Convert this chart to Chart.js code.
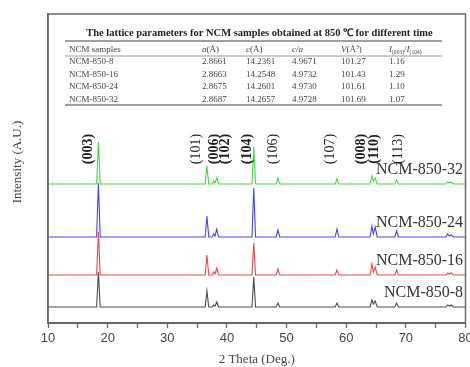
<!DOCTYPE html>
<html><head><meta charset="utf-8">
<script src="https://cdn.jsdelivr.net/npm/chart.js@4"></script>
<style>html,body{margin:0;padding:0;background:#fff}#wrap{width:470px;height:367px}</style>
</head><body><div id="wrap"><canvas id="c" width="470" height="367"></canvas></div>
<script>
// ---- data (2θ in degrees, intensities in arbitrary units above each pattern's baseline)
const TWO_THETA = [10,
  18.15, 18.45, 18.75,
  36.35, 36.65, 36.95,
  37.55, 37.8, 38.0, 38.3, 38.6,
  44.2, 44.5, 44.8,
  48.25, 48.55, 48.85,
  58.15, 58.45, 58.75,
  64.0, 64.3, 64.55, 64.85, 65.2,
  68.15, 68.45, 68.75,
  76.7, 77.0, 77.3, 77.6, 78.0,
  80];
const NCM_850_8  = [0, 0,35,0, 0,16,0, 0,2,1,5,0, 0,30,0, 0,4,0, 0,4,0, 0,7,3,6,0, 0,4,0, 0,2,1,2,0, 0];
const NCM_850_16 = [0, 0,43,0, 0,20,0, 0,3,1,7,0, 0,32,0, 0,6,0, 0,5,0, 0,11,3,8,0, 0,5,0, 0,2,1,2,0, 0];
const NCM_850_24 = [0, 0,54,0, 0,21,0, 0,3,1,8,0, 0,49,0, 0,7,0, 0,8,0, 0,11,3,10,0, 0,6,0, 0,3,1,2,0, 0];
const NCM_850_32 = [0, 0,42,0, 0,18,0, 0,3,1,6,0, 0,37,0, 0,6,0, 0,5,0, 0,8,3,6,0, 0,4,0, 0,2,1,2,0, 0];
const SERIES_NAMES = ['NCM-850-8', 'NCM-850-16', 'NCM-850-24', 'NCM-850-32'];
const STACK_SHIFT = [16, 48, 86, 139];   // vertical offset of each stacked pattern
const X_TICKS = [10, 20, 30, 40, 50, 60, 70, 80];

const HKL_LABELS = ['(003)', '(101)', '(006)', '(102)', '(104)', '(106)', '(107)', '(008)', '(110)', '(113)'];
const HKL_AT     = [16.7, 34.8, 37.85, 39.7, 43.4, 47.75, 57.3, 62.6, 64.75, 68.8];
const HKL_BOLD   = [true, false, true, true, true, false, false, true, true, false];

const TABLE_TITLE = 'The lattice parameters for NCM samples obtained at 850 \u2103 for different time';
const SAMPLES   = ['NCM-850-8', 'NCM-850-16', 'NCM-850-24', 'NCM-850-32'];
const A_PARAM   = ['2.8661', '2.8663', '2.8675', '2.8687'];
const C_PARAM   = ['14.2361', '14.2548', '14.2601', '14.2657'];
const C_OVER_A  = ['4.9671', '4.9732', '4.9730', '4.9728'];
const VOLUME    = ['101.27', '101.43', '101.61', '101.69'];
const I_RATIO   = ['1.16', '1.29', '1.10', '1.07'];

// ---- styles
const COLORS = ['#4a4a4a', '#e8494d', '#4545ee', '#3fdc3f'];
const SERIF = '"Liberation Serif", "Times New Roman", serif';
const SANS = '"Liberation Sans", Arial, sans-serif';

const seriesVals = [NCM_850_8, NCM_850_16, NCM_850_24, NCM_850_32];
const datasets = seriesVals.map((vals, s) => ({
  label: SERIES_NAMES[s],
  data: TWO_THETA.map((t, i) => ({x: t, y: vals[i] + STACK_SHIFT[s]})),
  borderColor: COLORS[s],
  borderWidth: 1.1,
  pointRadius: 0,
  tension: 0,
  fill: false
}));

function drawRich(ctx, parts, x, y, size) {
  let cx = x;
  parts.forEach(p => {
    const fs = (p.sub || p.sup) ? size * 0.62 : size;
    ctx.font = (p.i ? 'italic ' : '') + fs + 'px ' + SERIF;
    const dy = p.sub ? size * 0.28 : (p.sup ? -size * 0.3 : 0);
    ctx.fillText(p.t, cx, y + dy);
    cx += ctx.measureText(p.t).width;
  });
}

const overlay = {
  id: 'overlay',
  afterDraw(chart) {
    const {ctx, chartArea: ca, scales: {x, y}} = chart;
    ctx.save();
    // frame
    ctx.strokeStyle = '#6a6a6a';
    ctx.lineWidth = 1.5;
    ctx.strokeRect(ca.left, ca.top, ca.right - ca.left, ca.bottom - ca.top);

    // y title
    ctx.save();
    ctx.translate(17.5, 162);
    ctx.rotate(-Math.PI / 2);
    ctx.font = '13px ' + SERIF;
    ctx.fillStyle = '#444';
    ctx.textAlign = 'center';
    ctx.textBaseline = 'middle';
    ctx.fillText('Intensity (A.U.)', 0, 0);
    ctx.restore();

    // hkl labels
    ctx.fillStyle = '#1e1e1e';
    HKL_LABELS.forEach((t, i) => {
      ctx.save();
      ctx.translate(x.getPixelForValue(HKL_AT[i]), y.getPixelForValue(174));
      ctx.rotate(-Math.PI / 2);
      ctx.font = (HKL_BOLD[i] ? 'bold ' : '') + '14px ' + SERIF;
      ctx.textAlign = 'center';
      ctx.textBaseline = 'middle';
      ctx.fillText(t, 0, 0);
      ctx.restore();
    });

    // series labels
    ctx.font = '16px ' + SERIF;
    ctx.fillStyle = '#333';
    ctx.textAlign = 'right';
    ctx.textBaseline = 'middle';
    SERIES_NAMES.forEach((n, s) => {
      ctx.fillText(n, x.getPixelForValue(79.6), y.getPixelForValue(STACK_SHIFT[s] + 14));
    });

    // inset table
    ctx.textAlign = 'center';
    ctx.fillStyle = '#222';
    ctx.font = 'bold 10px ' + SERIF;
    const w = ctx.measureText(TABLE_TITLE).width;
    const ts = 10 * 347 / w;
    ctx.font = 'bold ' + ts.toFixed(2) + 'px ' + SERIF;
    ctx.fillText(TABLE_TITLE, 259.5, 33);

    ctx.strokeStyle = '#808080';
    ctx.lineWidth = 1.2;
    [[41, 1.3], [56, 0.8], [105, 1.3]].forEach(([ly, lw]) => {
      ctx.lineWidth = lw;
      ctx.beginPath(); ctx.moveTo(65, ly); ctx.lineTo(442, ly); ctx.stroke();
    });

    ctx.textAlign = 'left';
    ctx.fillStyle = '#444';
    const colX = [69, 202, 246, 292, 341, 389];
    const fs = 9;
    const head = [
      [{t: 'NCM samples'}],
      [{t: 'a', i: 1}, {t: '(\u00c5)'}],
      [{t: 'c', i: 1}, {t: '(\u00c5)'}],
      [{t: 'c/a', i: 1}],
      [{t: 'V', i: 1}, {t: '(\u00c5'}, {t: '3', sup: 1}, {t: ')'}],
      [{t: 'I', i: 1}, {t: '(003)', sub: 1}, {t: '/'}, {t: 'I', i: 1}, {t: '(104)', sub: 1}]
    ];
    head.forEach((parts, c) => drawRich(ctx, parts, colX[c], 50, fs));
    const rowY = [62, 74.5, 87, 99.5];
    const cols = [SAMPLES, A_PARAM, C_PARAM, C_OVER_A, VOLUME, I_RATIO];
    ctx.font = fs + 'px ' + SERIF;
    rowY.forEach((ry, r) => {
      cols.forEach((col, c) => ctx.fillText(col[r], colX[c], ry));
    });
    ctx.restore();
  }
};

new Chart(document.getElementById('c'), {
  type: 'line',
  data: {datasets},
  options: {
    responsive: false,
    animation: false,
    devicePixelRatio: 1,
    layout: {padding: {left: 0, right: 4.5, top: 14, bottom: 0}},
    plugins: {legend: {display: false}, tooltip: {enabled: false}},
    scales: {
      x: {
        type: 'linear', min: 10, max: 80,
        afterBuildTicks: s => { s.ticks = [10,15,20,25,30,35,40,45,50,55,60,65,70,75,80].map(v => ({value: v})); },
        ticks: {
          autoSkip: false, maxRotation: 0, padding: 3,
          callback: v => X_TICKS.includes(v) ? String(v) : '',
          font: {family: SANS, size: 13}, color: '#444'
        },
        grid: {drawOnChartArea: false, drawTicks: true, tickLength: 5, color: '#666', tickWidth: 1.3},
        border: {color: '#666', width: 2},
        title: {display: true, text: '2 Theta (Deg.)', font: {family: SERIF, size: 13}, color: '#444', padding: {top: 0, bottom: 0}},
        afterFit: s => { s.height = 44; s.paddingLeft = 0; s.paddingRight = 0; }
      },
      y: {
        type: 'linear', min: 0, max: 309,
        ticks: {display: false},
        grid: {display: false, drawTicks: false},
        border: {color: '#666', width: 1.5},
        afterFit: s => { s.width = 48; s.paddingTop = 0; s.paddingBottom = 0; }
      }
    }
  },
  plugins: [overlay]
});
</script>
</body></html>
